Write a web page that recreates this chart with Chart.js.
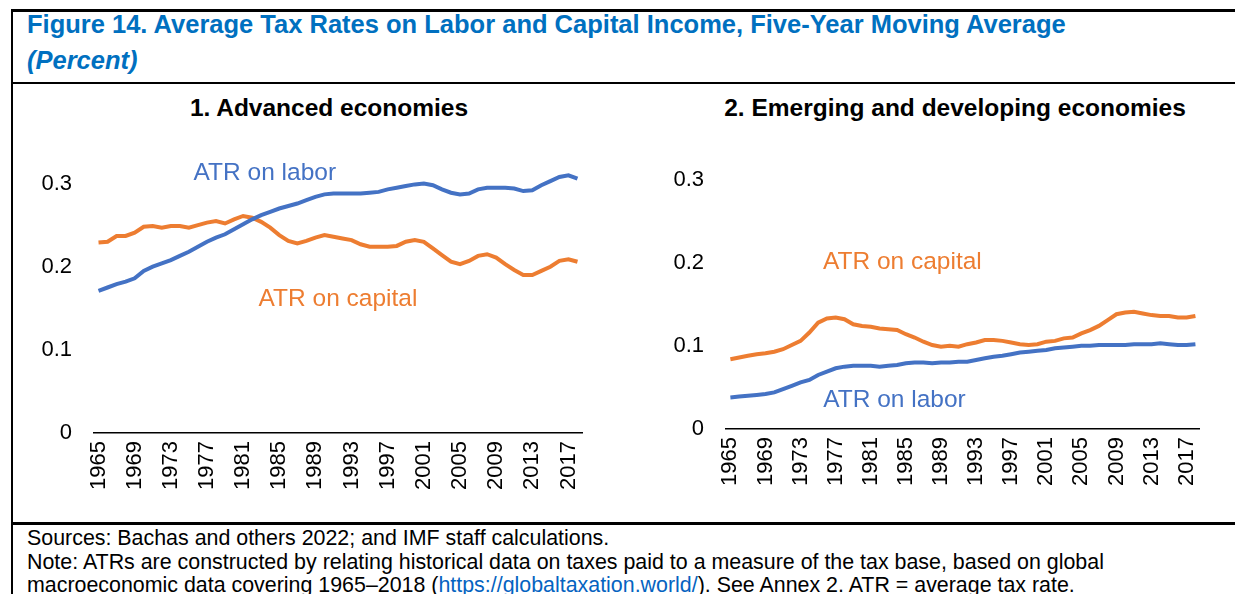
<!DOCTYPE html>
<html>
<head>
<meta charset="utf-8">
<script src="https://cdn.jsdelivr.net/npm/chart.js@4/dist/chart.umd.min.js"></script>
<style>
  body { margin: 0; width: 1235px; height: 594px; overflow: hidden; background: #fff;
         font-family: "Liberation Sans", Arial, sans-serif; position: relative; }
  .line { position: absolute; background: #000; }
  .head { position: absolute; left: 27px; color: #0070C0; font-weight: bold; font-size: 25.5px; white-space: nowrap; }
  .ptitle { position: absolute; font-weight: bold; font-size: 24.5px; white-space: nowrap; color: #000; transform: translateX(-50%); }
  .foot { position: absolute; left: 27px; font-size: 21.4px; line-height: 23.5px; white-space: nowrap; color: #000; }
  .foot a { color: #0563C1; text-decoration: none; }
  canvas { position: absolute; }
</style>
</head>
<body>
<div class="line" style="left:12px;top:9px;width:1223px;height:3px"></div>
<div class="line" style="left:11px;top:9px;width:2px;height:585px"></div>
<div class="line" style="left:12px;top:82px;width:1223px;height:2px"></div>
<div class="line" style="left:12px;top:522px;width:1223px;height:3px"></div>

<div class="head" style="top:10px">Figure 14. Average Tax Rates on Labor and Capital Income, Five-Year Moving Average</div>
<div class="head" style="top:46px;font-style:italic">(Percent)</div>

<div class="ptitle" style="left:329px;top:94px">1. Advanced economies</div>
<div class="ptitle" style="left:955px;top:94px">2. Emerging and developing economies</div>

<div class="foot" style="top:527px">Sources: Bachas and others 2022; and IMF staff calculations.<br>Note: ATRs are constructed by relating historical data on taxes paid to a measure of the tax base, based on global<br>macroeconomic data covering 1965–2018 (<a>https://globaltaxation.world/</a>). See Annex 2. ATR = average tax rate.</div>

<canvas id="adv" width="600" height="432" style="left:14px;top:86px"></canvas>
<canvas id="emd" width="590" height="432" style="left:640px;top:82px"></canvas>

<script>
const years = [];
for (let y = 1965; y <= 2018; y++) years.push(String(y));

const yTicks = [0, 0.1, 0.2, 0.3];

const advLabor = [
  0.171, 0.175, 0.179, 0.182, 0.186, 0.195, 0.200, 0.204, 0.208, 0.213,
  0.218, 0.224, 0.230, 0.235, 0.239, 0.245, 0.251, 0.257, 0.262, 0.266,
  0.270, 0.273, 0.276, 0.280, 0.284, 0.287, 0.288, 0.288, 0.288, 0.288,
  0.289, 0.290, 0.293, 0.295, 0.297, 0.299, 0.300, 0.298, 0.293, 0.289,
  0.287, 0.288, 0.293, 0.295, 0.295, 0.295, 0.294, 0.291, 0.292, 0.298,
  0.303, 0.308, 0.310, 0.306
];
const advCapital = [
  0.229, 0.230, 0.237, 0.237, 0.241, 0.248, 0.249, 0.247, 0.249, 0.249,
  0.247, 0.250, 0.253, 0.255, 0.252, 0.257, 0.261, 0.259, 0.254, 0.247,
  0.238, 0.231, 0.228, 0.231, 0.235, 0.238, 0.236, 0.234, 0.232, 0.227,
  0.224, 0.224, 0.224, 0.225, 0.230, 0.232, 0.230, 0.222, 0.214, 0.206,
  0.203, 0.207, 0.213, 0.215, 0.211, 0.203, 0.196, 0.190, 0.190, 0.195,
  0.200, 0.207, 0.209, 0.206
];
const emdLabor = [
  0.038, 0.039, 0.040, 0.041, 0.042, 0.044, 0.048, 0.052, 0.056, 0.059,
  0.065, 0.069, 0.073, 0.075, 0.076, 0.076, 0.076, 0.075, 0.076, 0.077,
  0.079, 0.080, 0.080, 0.079, 0.080, 0.080, 0.081, 0.081, 0.083, 0.085,
  0.087, 0.088, 0.090, 0.092, 0.093, 0.094, 0.095, 0.097, 0.098, 0.099,
  0.100, 0.100, 0.101, 0.101, 0.101, 0.101, 0.102, 0.102, 0.102, 0.103,
  0.102, 0.101, 0.101, 0.102
];
const emdCapital = [
  0.084, 0.086, 0.088, 0.090, 0.091, 0.093, 0.096, 0.101, 0.106, 0.116,
  0.128, 0.133, 0.134, 0.132, 0.126, 0.124, 0.123, 0.121, 0.120, 0.119,
  0.114, 0.110, 0.105, 0.101, 0.099, 0.100, 0.099, 0.102, 0.104, 0.107,
  0.107, 0.106, 0.104, 0.102, 0.101, 0.102, 0.105, 0.106, 0.109, 0.110,
  0.115, 0.119, 0.124, 0.131, 0.138, 0.140, 0.141, 0.139, 0.137, 0.136,
  0.136, 0.134, 0.134, 0.136
];

const BLUE = '#4472C4';
const ORANGE = '#ED7D31';
const FONT = '"Liberation Sans", Arial, sans-serif';

// in-plot series labels, placed through the chart scales
const notes = {
  id: 'notes',
  afterDatasetsDraw(chart, args, opts) {
    const { ctx, scales: { x, y } } = chart;
    ctx.save();
    ctx.font = '24.5px ' + FONT;
    ctx.textAlign = 'center';
    ctx.textBaseline = 'middle';
    opts.items.forEach(n => {
      ctx.fillStyle = n.color;
      ctx.fillText(n.text, x.getPixelForValue(n.at), y.getPixelForValue(n.value));
    });
    ctx.restore();
  }
};

function makeChart(id, labor, capital, yWidth, padTop, padRight, items) {
  new Chart(document.getElementById(id), {
    type: 'line',
    data: {
      labels: years,
      datasets: [
        { label: 'ATR on labor', data: labor, borderColor: BLUE, borderWidth: 4, pointRadius: 0, tension: 0 },
        { label: 'ATR on capital', data: capital, borderColor: ORANGE, borderWidth: 4, pointRadius: 0, tension: 0 }
      ]
    },
    options: {
      responsive: false,
      animation: false,
      layout: { padding: { top: padTop, right: padRight, left: 0, bottom: 0 } },
      plugins: {
        legend: { display: false },
        tooltip: { enabled: false },
        notes: { items: items }
      },
      scales: {
        x: {
          offset: true,
          grid: { display: false, drawTicks: false },
          border: { display: true, color: '#000', width: 1.5 },
          ticks: {
            autoSkip: false, minRotation: 90, maxRotation: 90, padding: 8,
            color: '#000', font: { family: FONT, size: 22 },
            callback: (v, i) => (i % 4 === 0 ? years[i] : '')
          },
          afterFit: s => { s.height = 85; }
        },
        y: {
          min: 0, max: 0.35,
          grid: { display: false, drawTicks: false },
          border: { display: false },
          afterBuildTicks: s => { s.ticks = yTicks.map(v => ({ value: v })); },
          ticks: {
            padding: 22, color: '#000', font: { family: FONT, size: 22 },
            callback: v => (v === 0 ? '0' : v.toFixed(1))
          },
          afterFit: s => { s.width = yWidth; }
        }
      }
    },
    plugins: [notes]
  });
}

makeChart('adv', advLabor, advCapital, 80, 56, 32, [
  { text: 'ATR on labor', color: BLUE, at: 18.4, value: 0.312 },
  { text: 'ATR on capital', color: ORANGE, at: 26.5, value: 0.161 }
]);
makeChart('emd', emdLabor, emdCapital, 86, 56, 20, [
  { text: 'ATR on capital', color: ORANGE, at: 19.6, value: 0.201 },
  { text: 'ATR on labor', color: BLUE, at: 18.7, value: 0.034 }
]);
</script>
</body>
</html>
